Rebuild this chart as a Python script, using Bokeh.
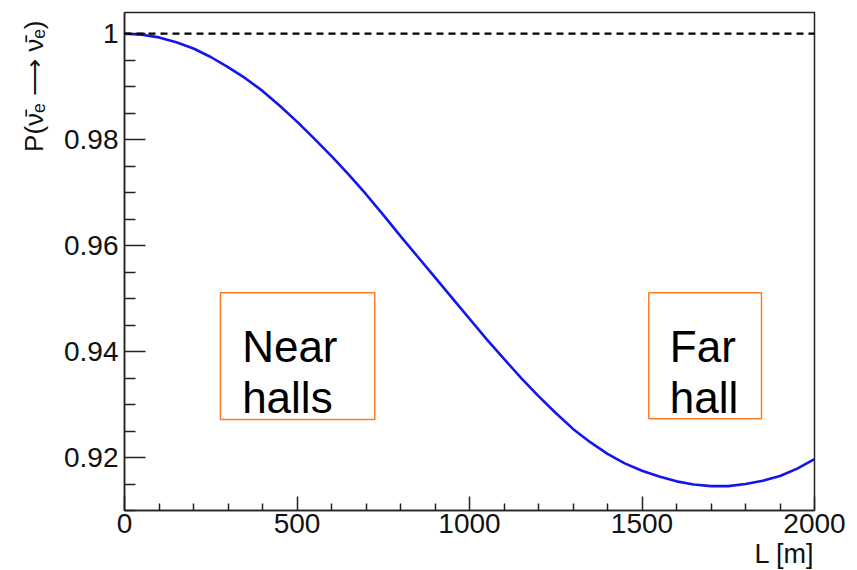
from bokeh.plotting import figure
from bokeh.models import (FixedTicker, Span, BoxAnnotation, Label, Title,
                          CustomJSTickFormatter, Range1d)
from bokeh.embed import file_html
from bokeh.resources import INLINE

# ---- data ----
baseline_L = [0, 50, 100, 150, 200, 250, 300, 350, 400, 450, 500, 550, 600,
              650, 700, 750, 800, 850, 900, 950, 1000, 1050, 1100, 1150,
              1200, 1250, 1300, 1350, 1400, 1450, 1500, 1550, 1600, 1650,
              1700, 1750, 1800, 1850, 1900, 1950, 2000]
survival_P = [1.0000, 0.9998, 0.9993, 0.9984, 0.9972, 0.9956, 0.9937,
              0.9916, 0.9892, 0.9864, 0.9834, 0.9802, 0.9769, 0.9734,
              0.9697, 0.9658, 0.9618, 0.9579, 0.9540, 0.9501, 0.9462,
              0.9423, 0.9386, 0.9350, 0.9316, 0.9284, 0.9254, 0.9229,
              0.9207, 0.9189, 0.9175, 0.9164, 0.9155, 0.9149, 0.9146,
              0.9146, 0.9150, 0.9156, 0.9165, 0.9179, 0.9197]
no_osc_level = 1.0

x_major = [0, 500, 1000, 1500, 2000]
x_minor = [100, 200, 300, 400, 600, 700, 800, 900, 1100, 1200, 1300,
           1400, 1600, 1700, 1800, 1900]
y_major = [0.92, 0.94, 0.96, 0.98, 1.0]
y_minor = [0.91, 0.915, 0.925, 0.93, 0.935, 0.945, 0.95, 0.955, 0.965,
           0.97, 0.975, 0.985, 0.99, 0.995]

y_title = "P(\u03bd\u0304\u2091 \u27f6 \u03bd\u0304\u2091)"
x_title = "L [m]"
near_lines = ["Near", "halls"]
far_lines = ["Far", "hall"]

FONT = "Liberation Sans"

p = figure(width=850, height=570, output_backend="svg", toolbar_location=None,
           x_range=Range1d(0, 2000), y_range=Range1d(0.91, 1.004),
           min_border_left=124, min_border_right=36,
           min_border_top=12, min_border_bottom=60)
p.background_fill_color = "white"
p.border_fill_color = "white"
p.grid.visible = False
p.outline_line_color = "#222222"
p.outline_line_width = 1.5

# axes
for ax in (p.xaxis[0], p.yaxis[0]):
    ax.axis_line_color = "#222222"
    ax.axis_line_width = 1.5
    ax.major_tick_line_color = "#222222"
    ax.minor_tick_line_color = "#222222"
    ax.major_tick_line_width = 1.5
    ax.minor_tick_line_width = 1.5
    ax.major_tick_out = 0
    ax.minor_tick_out = 0
    ax.major_label_text_font = FONT
    ax.major_label_text_font_size = "28px"
    ax.major_label_text_color = "#111111"
    ax.major_label_text_line_height = 0.9

p.xaxis.ticker = FixedTicker(ticks=x_major, minor_ticks=x_minor)
p.xaxis.major_tick_in = 14
p.xaxis.minor_tick_in = 7
p.xaxis.major_label_standoff = 3

p.yaxis.ticker = FixedTicker(ticks=y_major, minor_ticks=y_minor)
p.yaxis.major_tick_in = 21
p.yaxis.minor_tick_in = 11
p.yaxis.major_label_standoff = 6
p.yaxis.formatter = CustomJSTickFormatter(
    code="return tick.toFixed(2).replace(/\\.?0+$/, '');")

# axis titles, placed at the ends like ROOT does
p.add_layout(Title(text=y_title, align="right", text_font=FONT,
                   text_font_size="26px", text_font_style="normal",
                   text_color="#111111", standoff=26, offset=8), "left")
p.add_layout(Title(text=x_title, align="right", text_font=FONT,
                   text_font_size="27px", text_font_style="normal",
                   text_color="#111111", standoff=2,
                   text_line_height=0.9), "below")

# reference line and curve
p.add_layout(Span(location=no_osc_level, dimension="width", line_color="black",
                  line_width=2.2, line_dash="7 5"))
p.line(baseline_L, survival_P, line_color="#1414ee", line_width=2.6)

# boxes
box_style = dict(fill_color="white", fill_alpha=0.0, line_color="#ff7a26",
                 line_alpha=1.0, line_width=1.5)
p.add_layout(BoxAnnotation(left=278, right=725.5, top=0.95109, bottom=0.92718,
                           **box_style))
p.add_layout(BoxAnnotation(left=1519.7, right=1846.4, top=0.95109,
                           bottom=0.92731, **box_style))

txt = dict(text_font=FONT, text_font_size="44px", text_color="black",
           text_align="left", text_baseline="alphabetic")
p.add_layout(Label(x=341, y=0.94101, text=near_lines[0], **txt))
p.add_layout(Label(x=341, y=0.93133, text=near_lines[1], **txt))
p.add_layout(Label(x=1580.6, y=0.94095, text=far_lines[0], **txt))
p.add_layout(Label(x=1580.6, y=0.93133, text=far_lines[1], **txt))

open("out.html", "w").write(file_html(p, INLINE))
